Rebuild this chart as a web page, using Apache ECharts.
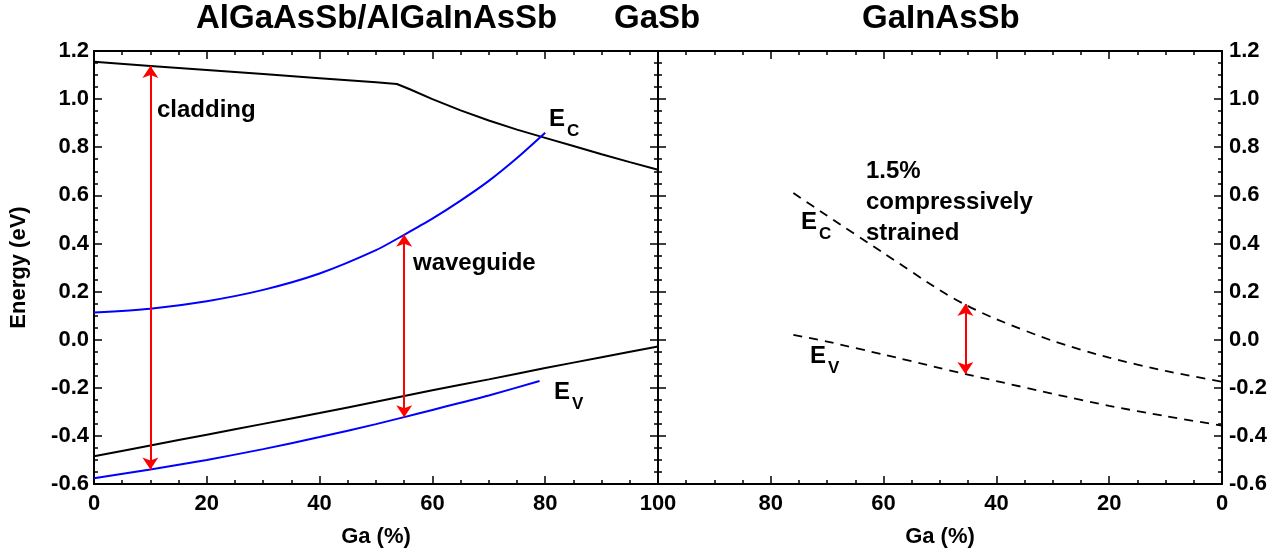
<!DOCTYPE html>
<html>
<head>
<meta charset="utf-8">
<script src="https://cdn.jsdelivr.net/npm/echarts@6/dist/echarts.min.js"></script>
<style>
  html, body { margin: 0; padding: 0; background: #fff; }
  #chart { width: 1286px; height: 554px; }
</style>
</head>
<body>
<div id="chart"></div>
<script>
// left panel: AlGaAsSb / AlGaInAsSb, Ga (%) 0 -> 100
const cladEcX = [0, 10, 20, 30, 40, 50, 53.7, 56, 60, 65, 70, 75, 80, 85, 90, 95, 100];
const cladEcY = [1.155, 1.138, 1.121, 1.104, 1.087, 1.07, 1.063, 1.041, 1.0, 0.953, 0.911, 0.873, 0.839, 0.805, 0.771, 0.738, 0.706];
const cladEvX = [0, 10, 20, 30, 40, 50, 60, 70, 80, 90, 100];
const cladEvY = [-0.485, -0.44, -0.395, -0.35, -0.305, -0.258, -0.21, -0.165, -0.118, -0.073, -0.028];
const wgEcX = [0, 10, 20, 30, 40, 50, 55, 60, 65, 70, 75, 80];
const wgEcY = [0.113, 0.129, 0.16, 0.207, 0.275, 0.372, 0.436, 0.503, 0.578, 0.66, 0.755, 0.86];
const wgEvX = [0, 10, 20, 30, 40, 50, 55, 60, 65, 70, 79];
const wgEvY = [-0.576, -0.54, -0.5, -0.455, -0.405, -0.351, -0.322, -0.292, -0.262, -0.232, -0.172];

// right panel: GaInAsSb well, Ga (%) 100 -> 0
const qwEcX = [76, 70, 60, 50, 45.5, 40, 30, 20, 10, 0];
const qwEcY = [0.61, 0.515, 0.36, 0.205, 0.145, 0.085, -0.005, -0.075, -0.13, -0.175];
const qwEvX = [76, 70, 60, 50, 45.5, 40, 30, 20, 10, 0];
const qwEvY = [0.02, -0.008, -0.062, -0.118, -0.143, -0.172, -0.225, -0.275, -0.318, -0.357];

// double arrows: [x, top, bottom]
const arrowsLeft = [[10, 1.138, -0.54], [55, 0.436, -0.322]];
const arrowsRight = [[45.5, 0.148, -0.143]];

const FONT = 'Liberation Sans, Arial, sans-serif';
const zip = (xs, ys) => xs.map((x, i) => [x, ys[i]]);

const chart = echarts.init(document.getElementById('chart'));

const fmtY = v => (Math.abs(v) < 1e-9 ? 0 : v).toFixed(1);
const tickLbl = { color: '#000', fontFamily: FONT, fontWeight: 'bold', fontSize: 22 };
const nameStyle = { color: '#000', fontFamily: FONT, fontWeight: 'bold', fontSize: 22 };

function xAx(grid, pos, inverse, labels) {
  return {
    type: 'value', gridIndex: grid, position: pos, min: 0, max: 100, interval: 20, inverse: inverse,
    axisLine: { onZero: false, lineStyle: { color: '#000', width: 2 } },
    axisTick: { inside: true, length: 8, lineStyle: { width: 1.5, color: '#000' } },
    minorTick: { show: true, splitNumber: 4, length: 4, lineStyle: { width: 1.5, color: '#000' } },
    splitLine: { show: false },
    axisLabel: Object.assign({ show: labels, margin: 9, showMaxLabel: !inverse }, tickLbl),
    name: labels ? 'Ga (%)' : '', nameLocation: 'middle', nameGap: 42,
    nameTextStyle: nameStyle
  };
}

function yAx(grid, pos, labels, margin, name) {
  return {
    type: 'value', gridIndex: grid, position: pos, min: -0.6, max: 1.2, interval: 0.2,
    axisLine: { onZero: false, lineStyle: { color: '#000', width: 2 } },
    axisTick: { inside: true, length: 8, lineStyle: { width: 1.5, color: '#000' } },
    minorTick: { show: true, splitNumber: 4, length: 4, lineStyle: { width: 1.5, color: '#000' } },
    splitLine: { show: false },
    axisLabel: Object.assign({ show: labels, margin: margin, formatter: fmtY }, tickLbl),
    name: name || '', nameLocation: 'middle', nameGap: 64,
    nameTextStyle: nameStyle
  };
}

function curve(data, xi, yi, color, dashed, smooth) {
  return {
    type: 'line', xAxisIndex: xi, yAxisIndex: yi, data: data, showSymbol: false,
    smooth: smooth,
    silent: true, animation: false,
    lineStyle: { color: color, width: dashed ? 1.8 : 2, type: dashed ? [9, 7] : 'solid' }
  };
}

function arrowSeries(list, xi, yi) {
  return {
    type: 'line', xAxisIndex: xi, yAxisIndex: yi, data: [], silent: true, animation: false,
    markLine: {
      silent: true, animation: false, symbol: ['arrow', 'arrow'], symbolSize: 12,
      label: { show: false },
      lineStyle: { color: '#ff0000', width: 2, type: 'solid' },
      data: list.map(a => [{ coord: [a[0], a[1]] }, { coord: [a[0], a[2]] }])
    }
  };
}

function txt(left, top, text, size) {
  return {
    type: 'text', left: left, top: top, silent: true,
    style: { text: text, fill: '#000', font: 'bold ' + size + 'px ' + FONT, lineHeight: 31 }
  };
}
function band(left, top, sub) {
  return [txt(left, top, 'E', 24), txt(left + 18, top + 12, sub, 17)];
}

chart.setOption({
  backgroundColor: '#fff',
  animation: false,
  grid: [
    { left: 94, right: 628, top: 51, bottom: 70 },
    { left: 658, right: 64, top: 51, bottom: 70 }
  ],
  xAxis: [
    xAx(0, 'bottom', false, true),
    xAx(0, 'top', false, false),
    xAx(1, 'bottom', true, true),
    xAx(1, 'top', true, false)
  ],
  yAxis: [
    yAx(0, 'left', true, 5, 'Energy (eV)'),
    yAx(0, 'right', false, 8),
    yAx(1, 'left', false, 8),
    yAx(1, 'right', true, 7)
  ],
  series: [
    curve(zip(cladEcX, cladEcY), 0, 0, '#000', false, false),
    curve(zip(cladEvX, cladEvY), 0, 0, '#000', false, 0.25),
    curve(zip(wgEcX, wgEcY), 0, 0, '#0000ff', false, 0.25),
    curve(zip(wgEvX, wgEvY), 0, 0, '#0000ff', false, 0.25),
    curve(zip(qwEcX, qwEcY), 2, 2, '#000', true, 0.25),
    curve(zip(qwEvX, qwEvY), 2, 2, '#000', true, 0.25),
    arrowSeries(arrowsLeft, 0, 0),
    arrowSeries(arrowsRight, 2, 2)
  ],
  graphic: [
    { type: 'text', left: 196, top: 2, style: { text: 'AlGaAsSb/AlGaInAsSb', fill: '#000', font: 'bold 33px ' + FONT } },
    { type: 'text', left: 614, top: 2, style: { text: 'GaSb', fill: '#000', font: 'bold 33px ' + FONT } },
    { type: 'text', left: 862, top: 2, style: { text: 'GaInAsSb', fill: '#000', font: 'bold 33px ' + FONT } },
    txt(157, 95, 'cladding', 24),
    txt(413, 248, 'waveguide', 24),
    txt(866, 156, '1.5%\ncompressively\nstrained', 24),
    ...band(549, 104, 'C'),
    ...band(554, 377, 'V'),
    ...band(801, 207, 'C'),
    ...band(810, 341, 'V')
  ]
});
</script>
</body>
</html>
